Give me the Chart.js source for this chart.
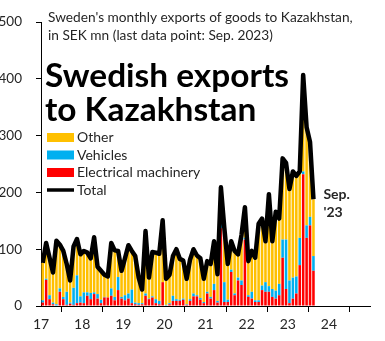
<html lang="en">
<head>
<meta charset="UTF-8">
<title>Swedish exports to Kazakhstan</title>
<style>
  body { margin: 0; background: #fff; }
  #chart-container { width: 385px; height: 341px; }
</style>
</head>
<body>
<div id="chart-container">
  <canvas id="exports-chart" width="385" height="341"></canvas>
</div>
<script src="https://cdn.jsdelivr.net/npm/chart.js"></script>
<script>
// monthly values, SEK mn, Feb 2017 .. Sep 2023
const months = [];
for (let y = 2017; y <= 2023; y++) {
  for (let m = 1; m <= 12; m++) {
    if ((y === 2017 && m < 2) || (y === 2023 && m > 9)) continue;
    months.push(y + '-' + String(m).padStart(2, '0'));
  }
}

const total = [
  76, 111, 85, 59, 115, 108, 97, 74, 45, 105, 118, 91,
  97, 94, 84, 121, 69, 62, 55, 52, 111, 98, 97, 62,
  84, 107, 97, 88, 50, 29, 132, 50, 95, 94, 92, 151,
  48, 55, 88, 100, 83, 80, 48, 82, 100, 89, 84, 48,
  79, 74, 114, 56, 209, 137, 74, 114, 97, 91, 125, 174,
  79, 97, 85, 145, 154, 114, 197, 114, 166, 154, 260, 252,
  206, 237, 229, 237, 407, 315, 289, 188
];

const electrical = [
  6, 46, 12, 3, 1, 25, 12, 2, 4, 2, 5, 6,
  5, 18, 12, 21, 13, 5, 15, 15, 18, 10, 28, 13,
  10, 13, 5, 3, 2, 3, 18, 12, 15, 5, 3, 42,
  1, 3, 9, 9, 9, 11, 2, 9, 17, 17, 11, 5,
  22, 13, 28, 6, 137, 7, 7, 60, 19, 45, 37, 117,
  16, 13, 7, 7, 28, 25, 25, 16, 13, 19, 85, 30,
  5, 13, 22, 72, 232, 120, 142, 62
];

const vehicles = [
  4, 2, 7, 3, 2, 6, 4, 23, 2, 30, 49, 11,
  19, 6, 11, 3, 8, 6, 1, 0, 13, 6, 23, 3,
  9, 9, 24, 3, 3, 2, 4, 1, 2, 7, 6, 0,
  1, 2, 9, 3, 2, 2, 1, 3, 5, 2, 3, 2,
  3, 3, 11, 3, 8, 35, 4, 4, 3, 5, 8, 3,
  3, 12, 3, 3, 8, 17, 10, 14, 14, 20, 32, 87,
  40, 37, 30, 48, 5, 22, 15, 26
];

// whatever is left of the total
const other = total.map((t, i) => t - electrical[i] - vehicles[i]);

const yearLabels = ['17', '18', '19', '20', '21', '22', '23', '24'];
const yTicks = [0, 100, 200, 300, 400, 500];

const FONT = 'Lato, "Liberation Sans", sans-serif';
const TEXT = '#262626';

// one slot per month on the x axis, marks sit in the middle of their slot
function points(arr) {
  return arr.map((v, i) => ({ x: i + 0.5, y: v }));
}

// text squeezed to a given width (narrow face look)
function squeezed(ctx, text, x, y, width) {
  const k = width / ctx.measureText(text).width;
  ctx.save();
  ctx.translate(x, y);
  ctx.scale(k, 1);
  ctx.fillText(text, 0, 0);
  ctx.restore();
}

// titles, legend and end label drawn onto the canvas
const overlay = {
  id: 'overlay',
  afterDraw(chart) {
    const ctx = chart.ctx;
    ctx.save();
    ctx.fillStyle = TEXT;
    ctx.textBaseline = 'middle';
    ctx.textAlign = 'left';

    ctx.font = '13.7px ' + FONT;
    ctx.fillText("Sweden's monthly exports of goods to Kazakhstan,", 48, 18);
    ctx.fillText('in SEK mn (last data point: Sep. 2023)', 48, 36);

    ctx.fillStyle = '#000';
    ctx.font = 'bold 33px ' + FONT;
    const k = 244 / ctx.measureText('Swedish exports').width;
    squeezed(ctx, 'Swedish exports', 45, 76, 244);
    squeezed(ctx, 'to Kazakhstan', 45, 110, ctx.measureText('to Kazakhstan').width * k);

    const items = chart.data.datasets.slice().reverse();
    ctx.font = '14px ' + FONT;
    let y = 137.5;
    items.forEach(ds => {
      if (ds.type === 'line') {
        ctx.strokeStyle = ds.borderColor;
        ctx.lineWidth = 3.5;
        ctx.beginPath();
        ctx.moveTo(47, y);
        ctx.lineTo(74, y);
        ctx.stroke();
      } else {
        ctx.fillStyle = ds.backgroundColor;
        ctx.fillRect(47, y - 4.5, 27, 9);
      }
      ctx.fillStyle = TEXT;
      ctx.fillText(ds.label, 77, y);
      y += 17.5;
    });

    const xs = chart.scales.x, ys = chart.scales.y;
    const last = total.length - 1;
    const lx = xs.getPixelForValue(last + 0.5) + 10;
    const ly = ys.getPixelForValue(total[last]);
    ctx.font = 'bold 14px ' + FONT;
    ctx.fillStyle = TEXT;
    ctx.fillText('Sep.', lx, ly - 5);
    ctx.fillText("'23", lx, ly + 13);
    ctx.restore();
  }
};

const ctx = document.getElementById('exports-chart').getContext('2d');
new Chart(ctx, {
  type: 'bar',
  data: {
    datasets: [
      { type: 'line', label: 'Total', data: points(total), borderColor: '#000',
        borderWidth: 4.5, pointRadius: 0, tension: 0, stack: 'line', order: 0,
        borderJoinStyle: 'round' },
      { label: 'Electrical machinery', data: points(electrical), backgroundColor: '#ff0000', order: 1 },
      { label: 'Vehicles', data: points(vehicles), backgroundColor: '#00b0f0', order: 1 },
      { label: 'Other', data: points(other), backgroundColor: '#ffc000', order: 1 }
    ]
  },
  options: {
    responsive: false,
    animation: false,
    datasets: { bar: { barPercentage: 0.75, categoryPercentage: 1, stack: 'parts' } },
    layout: { padding: { top: 16, right: 15, left: 0, bottom: 0 } },
    plugins: { legend: { display: false }, tooltip: { enabled: false } },
    scales: {
      x: {
        type: 'linear', min: 0, max: 96, stacked: true, offset: false,
        ticks: {
          stepSize: 12, autoSkip: false, maxRotation: 0, padding: 4,
          color: TEXT, font: { family: FONT, size: 14 },
          callback: v => yearLabels[v / 12] || ''
        },
        grid: { drawOnChartArea: false, tickLength: 6, color: '#000' },
        border: { color: '#000', width: 1 },
        afterFit: s => { s.height = 35; }
      },
      y: {
        min: 0, max: 500, stacked: true,
        afterBuildTicks: s => { s.ticks = yTicks.map(v => ({ value: v })); },
        ticks: { color: TEXT, font: { family: FONT, size: 13.5 }, padding: 14 },
        grid: { drawOnChartArea: false, tickLength: 5, color: '#000' },
        border: { color: '#000', width: 1 },
        afterFit: s => { s.width = 41; }
      }
    }
  },
  plugins: [overlay]
});
</script>
</body>
</html>
